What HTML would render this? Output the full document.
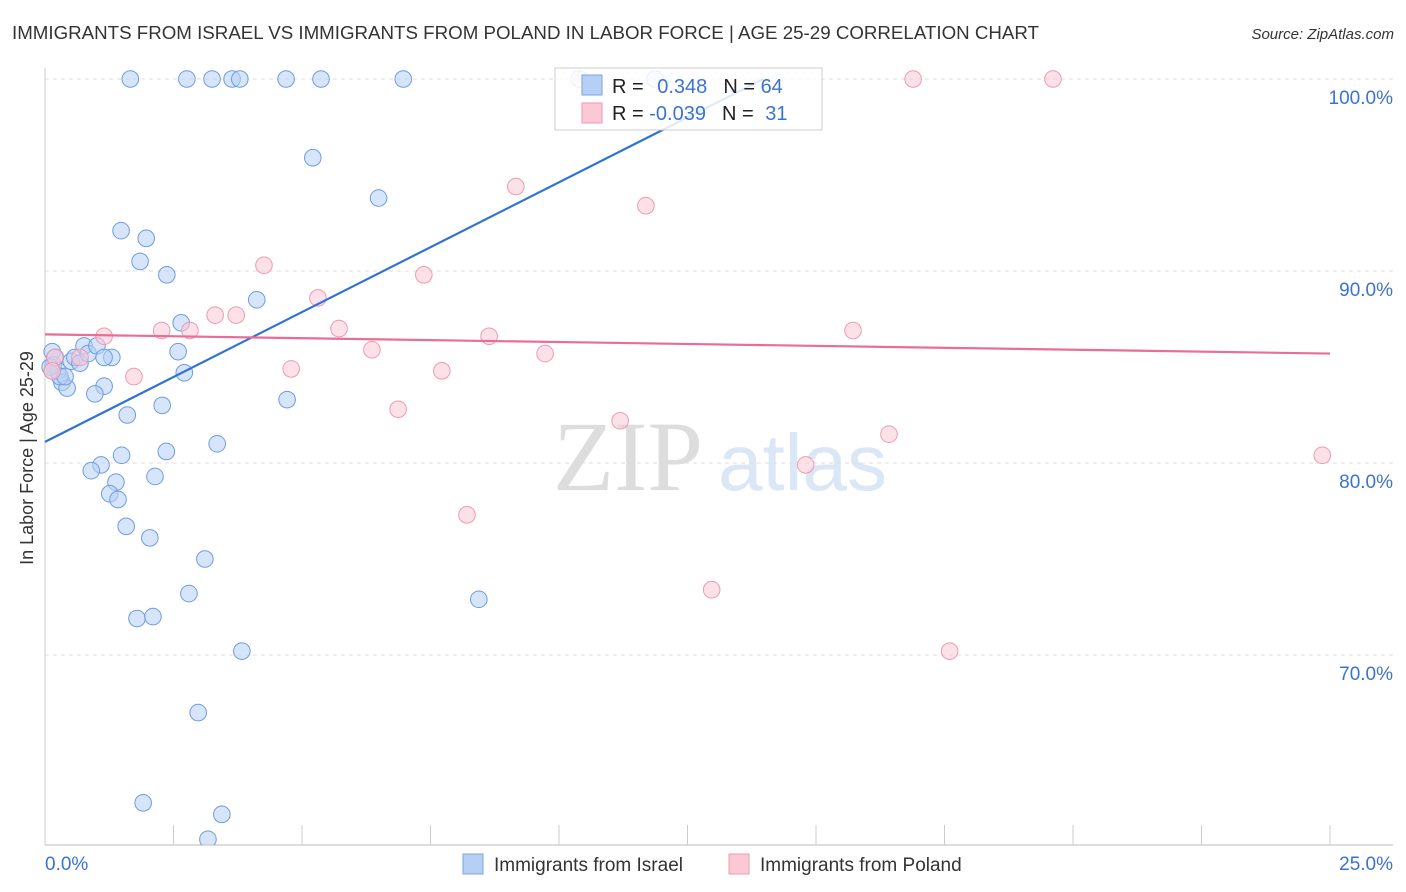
<!DOCTYPE html>
<html><head><meta charset="utf-8"><style>
body{margin:0;background:#fff;font-family:"Liberation Sans",sans-serif;}
svg{display:block}
</style></head><body>
<svg width="1406" height="892" xmlns="http://www.w3.org/2000/svg">
<text x="12" y="39" font-size="18" fill="#333" textLength="1027" lengthAdjust="spacingAndGlyphs">IMMIGRANTS FROM ISRAEL VS IMMIGRANTS FROM POLAND IN LABOR FORCE | AGE 25-29 CORRELATION CHART</text>
<text x="1394" y="39" font-size="15" fill="#333" font-style="italic" text-anchor="end">Source: ZipAtlas.com</text>
<g>
<text x="553" y="490" font-size="100" fill="#ddd" font-family="Liberation Serif, serif">ZIP</text>
<text x="718" y="490" font-size="80" fill="#dbe7f6">atlas</text>
</g>
<g id="grid"></g>
<g id="axes"></g>
<text x="33" y="458" font-size="18" fill="#333" text-anchor="middle" transform="rotate(-90 33 458)">In Labor Force | Age 25-29</text>
<g id="pts"></g>
<g id="trends"></g>
<g>
<rect x="555" y="68" width="267" height="62" fill="#fff" fill-opacity="0.85" stroke="#ccc"/>
<rect x="582" y="75" width="20" height="20" fill="#b6d0f5" stroke="#7aa4e0"/>
<rect x="582" y="103" width="20" height="20" fill="#fcc8d6" stroke="#ee9ab2"/>
<text x="612" y="93" font-size="20" fill="#222">R = <tspan fill="#3b73d1" dx="8">0.348</tspan><tspan dx="16" fill="#222">N = </tspan><tspan fill="#3b73d1">64</tspan></text>
<text x="612" y="120" font-size="20" fill="#222">R = <tspan fill="#3b73d1">-0.039</tspan><tspan dx="16" fill="#222">N = </tspan><tspan fill="#3b73d1" dx="6">31</tspan></text>
</g>
<g>
<rect x="463" y="854" width="20" height="20" fill="#b6d0f5" stroke="#7aa4e0"/>
<text x="494" y="871" font-size="19" fill="#333">Immigrants from Israel</text>
<rect x="729" y="854" width="20" height="20" fill="#fcc8d6" stroke="#ee9ab2"/>
<text x="760" y="871" font-size="19" fill="#333">Immigrants from Poland</text>
</g>
</svg>
<script>
const yTicks=[100,90,80,70];
const yTickLabels=["100.0%","90.0%","80.0%","70.0%"];
const xTickLabels=["0.0%","25.0%"];
const israelX=[1.66,2.76,3.25,3.64,3.79,4.69,5.37,6.97,10.39,11.87,5.21,6.49,1.48,1.97,1.85,2.37,4.12,2.65,2.59,2.71,4.71,2.28,3.35,2.36,1.60,1.49,2.14,1.09,0.90,1.38,1.26,1.42,1.58,2.04,3.11,2.80,1.79,2.10,3.83,2.98,1.91,3.44,3.17,8.44,0.14,0.16,0.25,0.33,0.43,0.51,0.58,0.68,0.76,0.84,1.01,1.15,1.30,0.97,1.15,0.29,0.10,0.39,0.14,0.20];
const israelY=[100,100,100,100,100,100,100,100,100,100,95.9,93.8,92.1,91.7,90.5,89.8,88.5,87.3,85.8,84.7,83.3,83.0,81.0,80.6,82.5,80.4,79.3,79.9,79.6,79.0,78.4,78.1,76.7,76.1,75.0,73.2,71.9,72.0,70.2,67.0,62.3,61.7,60.4,72.9,85.8,85.1,84.8,84.2,83.9,85.3,85.5,85.2,86.1,85.7,86.1,84.0,85.5,83.6,85.5,84.5,85.0,84.5,84.8,85.5];
const polandX=[16.89,19.61,9.16,11.69,4.26,7.37,5.31,3.31,3.72,2.27,2.82,1.15,5.72,8.64,15.72,6.36,9.73,4.79,7.72,1.73,6.87,11.19,16.42,14.80,24.85,8.21,12.97,17.60,0.19,0.14,0.68];
const polandY=[100,100,94.4,93.4,90.3,89.8,88.6,87.7,87.7,86.9,86.9,86.6,87.0,86.6,86.9,85.9,85.7,84.9,84.8,84.5,82.8,82.2,81.5,79.9,80.4,77.3,73.4,70.2,85.5,84.8,85.5];
const trendX=[0,25];
const israelTrendY=[81.1,114.9];
const polandTrendY=[86.7,85.7];
const NS="http://www.w3.org/2000/svg";
const X=v=>45+v*51.4, Y=v=>79+(100-v)*19.2;
function mk(t,a,p){const e=document.createElementNS(NS,t);for(const k in a)e.setAttribute(k,a[k]);p.appendChild(e);return e;}
const grid=document.getElementById('grid'),axes=document.getElementById('axes');
yTicks.forEach((v,i)=>{
 const l=mk('line',{x1:45,x2:1393,y1:Y(v),y2:Y(v),stroke:'#ddd','stroke-dasharray':'4,4'},grid);
 
 
 const t=mk('text',{x:1393,y:Y(v)+25,'font-size':19,fill:'#3b73d1','text-anchor':'end'},axes);
 t.textContent=yTickLabels[i];
 
 
});
const ax=mk('line',{x1:45,x2:1393,y1:845,y2:845,stroke:'#bbb'},axes);


const ay=mk('line',{x1:45,x2:45,y1:68,y2:845,stroke:'#ccc'},axes);


for(let i=1;i<=10;i++){const t=mk('line',{x1:X(i*2.5),x2:X(i*2.5),y1:825,y2:845,stroke:'#ccc'},axes);
 
 }
[[0,'start',45],[1,'end',1393]].forEach(([i,a,x])=>{const t=mk('text',{x:x,y:870,'font-size':19,fill:'#3b73d1','text-anchor':a},axes);t.textContent=xTickLabels[i];
 
 });
const pts=document.getElementById('pts');
mk('clipPath',{id:'cp'},pts);
mk('rect',{x:0,y:0,width:1406,height:845},document.getElementById('cp'));
israelX.forEach((x,i)=>{const c=mk('circle',{cx:X(x),cy:Y(israelY[i]),r:8.3,fill:'#b6d0f5','fill-opacity':0.55,stroke:'#6d9de0','stroke-width':1,'clip-path':'url(#cp)'},pts);
 
 });
polandX.forEach((x,i)=>{const c=mk('circle',{cx:X(x),cy:Y(polandY[i]),r:8.3,fill:'#fcc8d6','fill-opacity':0.55,stroke:'#ee9ab2','stroke-width':1},pts);
 
 });
const tr=document.getElementById('trends');
const endB=(100-israelTrendY[0])/((israelTrendY[1]-israelTrendY[0])/25);
const lb=mk('line',{x1:X(0),y1:Y(israelTrendY[0]),x2:X(endB),y2:Y(100),stroke:'#2f72d6','stroke-width':2.2},tr);


const lp=mk('line',{x1:X(trendX[0]),y1:Y(polandTrendY[0]),x2:X(trendX[1]),y2:Y(polandTrendY[1]),stroke:'#e86e98','stroke-width':2.2},tr);


</script>
</body></html>
